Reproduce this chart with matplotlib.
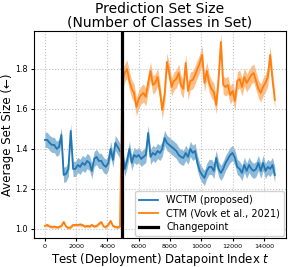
import numpy as np
import matplotlib
matplotlib.use("Agg")
import matplotlib.pyplot as plt

# test index of each plotted point (every 150 datapoints)
t = np.arange(0, 14701, 150)
changepoint = 4900

# WCTM (proposed) mean set size
wctm = [
    1.445, 1.445, 1.43, 1.42, 1.42, 1.40, 1.41, 1.47, 1.27, 1.275, 1.30,
    1.49, 1.30, 1.30, 1.32, 1.31, 1.33, 1.32, 1.34, 1.33, 1.29, 1.35,
    1.36, 1.34, 1.34, 1.32, 1.31, 1.33, 1.40, 1.345, 1.43, 1.41, 1.39,
    1.38, 1.30, 1.34, 1.40, 1.33, 1.37, 1.36, 1.37, 1.35, 1.36, 1.37,
    1.48, 1.36, 1.38, 1.37, 1.39, 1.38, 1.40, 1.455, 1.43, 1.42, 1.41,
    1.40, 1.39, 1.37, 1.36, 1.355, 1.38, 1.36, 1.40, 1.38, 1.39, 1.33,
    1.29, 1.27, 1.255, 1.29, 1.31, 1.31, 1.29, 1.355, 1.30, 1.28, 1.30,
    1.33, 1.35, 1.37, 1.38, 1.355, 1.31, 1.30, 1.28, 1.32, 1.29, 1.32,
    1.30, 1.29, 1.30, 1.33, 1.29, 1.33, 1.29, 1.31, 1.30, 1.32, 1.27,
]

# CTM (Vovk et al., 2021) mean set size
ctm = [
    1.015, 1.02, 1.012, 1.01, 1.012, 1.008, 1.01, 1.015, 1.035, 1.012, 1.005,
    1.008, 1.02, 1.02, 1.02, 1.022, 1.02, 1.012, 1.015, 1.012, 1.02, 1.012,
    1.015, 1.025, 1.035, 1.012, 1.01, 1.02, 1.04, 1.015, 1.01, 1.008, 1.012,
    1.74, 1.78, 1.80, 1.74, 1.70, 1.68, 1.61, 1.65, 1.67, 1.68, 1.66,
    1.73, 1.79, 1.72, 1.73, 1.76, 1.69, 1.595, 1.67, 1.835, 1.78, 1.71,
    1.74, 1.75, 1.78, 1.72, 1.70, 1.83, 1.69, 1.74, 1.745, 1.77, 1.80,
    1.83, 1.87, 1.73, 1.79, 1.73, 1.70, 1.685, 1.62, 1.75, 1.935, 1.72,
    1.71, 1.72, 1.67, 1.69, 1.64, 1.74, 1.75, 1.71, 1.76, 1.73, 1.75,
    1.77, 1.78, 1.74, 1.70, 1.68, 1.71, 1.73, 1.76, 1.87, 1.745, 1.645,
]

# half-width of the shaded bands (before / after the changepoint)
wctm_err = [0.038, 0.038]
ctm_err = [0.007, 0.045]

wctm = np.array(wctm)
ctm = np.array(ctm)
after = t > changepoint
wctm_hw = np.where(after, wctm_err[1], wctm_err[0])
ctm_hw = np.where(after, ctm_err[1], ctm_err[0])

fig = plt.figure(figsize=(2.98, 2.67), dpi=100)
ax = fig.add_axes([0.114, 0.109, 0.845, 0.775])

blue = "#1f77b4"
orange = "#ff7f0e"

ax.fill_between(t, wctm - wctm_hw, wctm + wctm_hw, color=blue, alpha=0.5, lw=0)
ax.plot(t, wctm, color=blue, lw=1.3, label="WCTM (proposed)")
ax.fill_between(t, ctm - ctm_hw, ctm + ctm_hw, color=orange, alpha=0.5, lw=0)
ax.plot(t, ctm, color=orange, lw=1.3, label="CTM (Vovk et al., 2021)")
ax.axvline(changepoint, color="black", lw=2.3, label="Changepoint")

ax.set_xlim(-700, 15400)
ax.set_ylim(0.955, 1.99)
ax.set_xticks(np.arange(0, 14001, 2000))
ax.set_yticks([1.0, 1.2, 1.4, 1.6, 1.8])
ax.tick_params(axis="x", labelsize=4.6, length=2.5, pad=2)
ax.tick_params(axis="y", labelsize=5.8, length=2.5, pad=2)
ax.grid(True, linestyle=":", color="#c0c0c0", lw=0.8)

ax.set_title("Prediction Set Size\n(Number of Classes in Set)", fontsize=10, pad=3,
             linespacing=1.0)
ax.set_xlabel("Test (Deployment) Datapoint Index $t$", fontsize=8.5, labelpad=1)
ax.set_ylabel("Average Set Size (\u2190)", fontsize=8.5, labelpad=1)
ax.legend(loc="lower right", fontsize=7, framealpha=0.9, borderpad=0.4,
          handlelength=2.0, labelspacing=0.35, borderaxespad=0.2)

fig.savefig("out.png", dpi=100)
